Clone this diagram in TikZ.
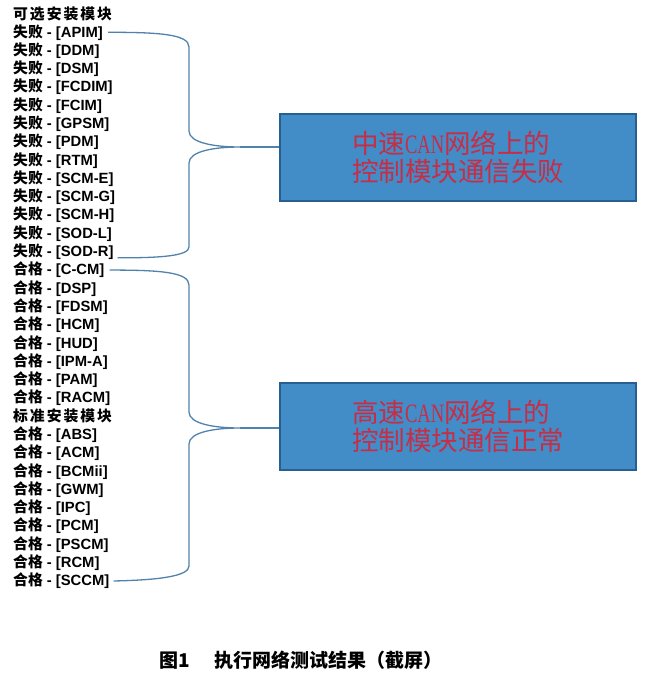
\documentclass[tikz,border=0pt]{standalone}
\usepackage{fontspec}
\usepackage{graphicx}
\usetikzlibrary{calc}
\setmainfont{Liberation Serif}
\setsansfont{Liberation Sans}
\newfontfamily\cjk{Noto Sans CJK SC}
\definecolor{boxfill}{RGB}{66,140,200}
\definecolor{boxedge}{RGB}{40,95,145}
\definecolor{bracecol}{RGB}{80,130,172}
\definecolor{redtxt}{RGB}{200,45,70}
\newcommand\rowF{{\cjk\bfseries 失败}}
\newcommand\rowP{{\cjk\bfseries 合格}}
\begin{document}
\begin{tikzpicture}[x=1pt,y=-1pt,
  rowtext/.style={anchor=west,inner sep=0pt,font=\fontsize{14.8}{14.8}\selectfont\sffamily\bfseries},
  infobox/.style={draw=boxedge,line width=2pt,fill=boxfill,minimum width=356pt,minimum height=87pt,
    text=redtxt,align=left,inner sep=0pt,font=\fontsize{26.5}{28}\selectfont},
  brace/.style={draw=bracecol,line width=1.3pt},
  caption/.style={inner sep=0pt,font=\cjk\bfseries\fontsize{19}{19}\selectfont}]
\useasboundingbox (0,0) rectangle (653,686);

% headings
\node[rowtext] (t0) at (13,14) {\cjk\bfseries 可\hspace{2pt}选\hspace{2pt}安\hspace{2pt}装\hspace{2pt}模\hspace{2pt}块};
\node[rowtext] (t22) at (13,{14+22*18.29}) {\cjk\bfseries 标\hspace{2pt}准\hspace{2pt}安\hspace{2pt}装\hspace{2pt}模\hspace{2pt}块};

% failed modules
\foreach \i/\n in {1/APIM,2/DDM,3/DSM,4/FCDIM,5/FCIM,6/GPSM,7/PDM,8/RTM,9/SCM-E,10/SCM-G,11/SCM-H,12/SOD-L,13/SOD-R}
  \node[rowtext] (t\i) at (13,{14+\i*18.29}) {\rowF{} - [\n]};
% passed modules
\foreach \i/\n in {14/C-CM,15/DSP,16/FDSM,17/HCM,18/HUD,19/IPM-A,20/PAM,21/RACM,23/ABS,24/ACM,25/BCMii,26/GWM,27/IPC,28/PCM,29/PSCM,30/RCM,31/SCCM}
  \node[rowtext] (t\i) at (13,{14+\i*18.29}) {\rowP{} - [\n]};

% boxes
\node[infobox] (b1) at (458,157.5) {{\cjk 中速}\scalebox{0.7}[1]{CAN}{\cjk 网络上的}\\{\cjk 控制模块通信失败}};
\node[infobox] (b2) at (458,426) {{\cjk 高速}\scalebox{0.7}[1]{CAN}{\cjk 网络上的}\\{\cjk 控制模块通信正常}};

% braces
\coordinate (tip1) at (240,147);
\coordinate (tip2) at (240,428);
\draw[brace] ($(t1.east)+(5,0)$) .. controls +(50,0) and (189,34) .. (189,47) -- (189,131)
  .. controls (189,143) and (215,147) .. (tip1)
  .. controls (215,147) and (189,151) .. (189,163) -- (189,247)
  .. controls (189,256) and (160,258) .. ($(t13.east)+(4,6)$);
\draw[brace] (tip1) -- (tip1 -| b1.west);

\draw[brace] ($(t14.east)+(5,0)$) .. controls +(50,0) and (189,272) .. (189,285) -- (189,412)
  .. controls (189,424) and (215,428) .. (tip2)
  .. controls (215,428) and (189,432) .. (189,444) -- (189,566)
  .. controls (189,576) and (160,580) .. ($(t31.east)+(4,0)$);
\draw[brace] (tip2) -- (tip2 -| b2.west);

% caption
\node[caption] (cap) at (301,660) {图1\hspace{24pt}执行网络测试结果（截屏）};
\end{tikzpicture}
\end{document}
